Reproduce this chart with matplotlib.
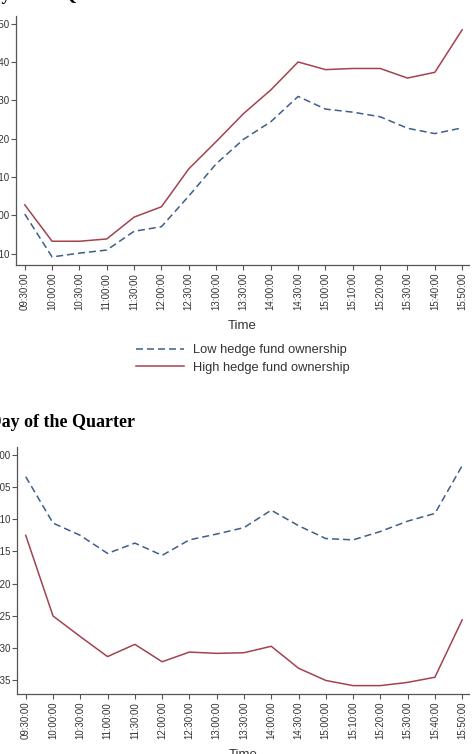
import matplotlib
matplotlib.use("Agg")
import matplotlib.pyplot as plt
from matplotlib.ticker import FormatStrFormatter, FixedLocator

# ---------------- data ----------------
times = ["09:30:00", "10:00:00", "10:30:00", "11:00:00", "11:30:00", "12:00:00",
         "12:30:00", "13:00:00", "13:30:00", "14:00:00", "14:30:00", "15:00:00",
         "15:10:00", "15:20:00", "15:30:00", "15:40:00", "15:50:00"]

# Panel A (top)
top_low = [0.0003, -0.0109, -0.0099, -0.0091, -0.0042, -0.0030, 0.0050, 0.0134,
           0.0198, 0.0244, 0.0310, 0.0277, 0.0269, 0.0257, 0.0227, 0.0213, 0.0228]
top_high = [0.0027, -0.0068, -0.0068, -0.0062, -0.0005, 0.0022, 0.0121, 0.0192,
            0.0265, 0.0327, 0.0400, 0.0380, 0.0383, 0.0383, 0.0358, 0.0373, 0.0484]

# Panel B (bottom)
bot_low = [-0.0034, -0.0106, -0.0125, -0.0153, -0.0137, -0.0156, -0.0132, -0.0123,
           -0.0113, -0.0086, -0.0110, -0.0130, -0.0132, -0.0119, -0.0103, -0.0091, -0.0017]
bot_high = [-0.0125, -0.0250, -0.0282, -0.0313, -0.0294, -0.0321, -0.0306, -0.0308,
            -0.0307, -0.0297, -0.0331, -0.0350, -0.0358, -0.0358, -0.0353, -0.0345, -0.0256]

top_yticks = [-0.010, 0.000, 0.010, 0.020, 0.030, 0.040, 0.050]
bot_yticks = [-0.035, -0.030, -0.025, -0.020, -0.015, -0.010, -0.005, 0.000]

series_labels = ["Low hedge fund ownership", "High hedge fund ownership"]
titles = ["Panel A: Last Day of the Quarter", "Panel B: First Day of the Quarter"]

# ---------------- style ----------------
W, H = 476, 754
DPI = 100
BLUE = "#3d5f88"
RED = "#a2434f"
AXC = "#555555"
TXT = "#333333"

plt.rcParams["font.family"] = ["Liberation Sans", "DejaVu Sans"]

fig = plt.figure(figsize=(W / DPI, H / DPI), dpi=DPI)
fig.patch.set_facecolor("white")


def px_axes(left, top, right, bottom):
    return fig.add_axes([left / W, 1 - bottom / H, (right - left) / W, (bottom - top) / H])


def style_axes(ax, yticks, ylim):
    x = list(range(len(times)))
    ax.set_xlim(-0.32, len(times) - 1 + 0.25)
    ax.set_ylim(*ylim)
    ax.xaxis.set_major_locator(FixedLocator(x))
    ax.set_xticklabels(times, rotation=90, fontsize=7, color=TXT)
    ax.yaxis.set_major_locator(FixedLocator(yticks))
    ax.yaxis.set_major_formatter(FormatStrFormatter("%.3f"))
    for lab in ax.get_yticklabels():
        lab.set_fontsize(7)
        lab.set_color(TXT)
    for s in ["top", "right"]:
        ax.spines[s].set_visible(False)
    for s in ["left", "bottom"]:
        ax.spines[s].set_color(AXC)
        ax.spines[s].set_linewidth(0.9)
    ax.tick_params(axis="both", direction="out", length=3.6, width=0.8, color=AXC)
    ax.tick_params(axis="y", pad=0.8)
    ax.tick_params(axis="x", pad=2)
    ax.set_xlabel("Time", fontsize=9.5, color=TXT, labelpad=7)


dash = (0, (4.6, 2.6))
LW = 1.1

# Top panel
ax1 = px_axes(16, 16, 469, 265)
x = list(range(len(times)))
l1, = ax1.plot(x, top_low, color=BLUE, lw=LW, linestyle=dash, label=series_labels[0])
l2, = ax1.plot(x, top_high, color=RED, lw=LW, label=series_labels[1])
style_axes(ax1, top_yticks, (-0.0130, 0.0520))

# Bottom panel
ax2 = px_axes(17, 447, 469, 694)
ax2.plot(x, bot_low, color=BLUE, lw=LW, linestyle=dash)
ax2.plot(x, bot_high, color=RED, lw=LW)
style_axes(ax2, bot_yticks, (-0.0371, 0.0012))

# Legend (for top panel, placed below it)
fig.legend(handles=[l1, l2], labels=series_labels, loc="center",
           bbox_to_anchor=(243 / W, 1 - 359 / H), frameon=False, fontsize=9.3,
           handlelength=3.7, handletextpad=0.7, labelspacing=0.4,
           labelcolor=TXT)

# Panel titles (partly outside the canvas, as in the cropped original)
fig.text(126 / W, 1 - 0 / H, titles[0], ha="right", va="baseline",
         family="Liberation Serif", fontweight="bold", fontsize=13, color="black")
fig.text(135 / W, 1 - 427 / H, titles[1], ha="right", va="baseline",
         family="Liberation Serif", fontweight="bold", fontsize=13, color="black")

fig.savefig("out.png", dpi=DPI, facecolor="white")
